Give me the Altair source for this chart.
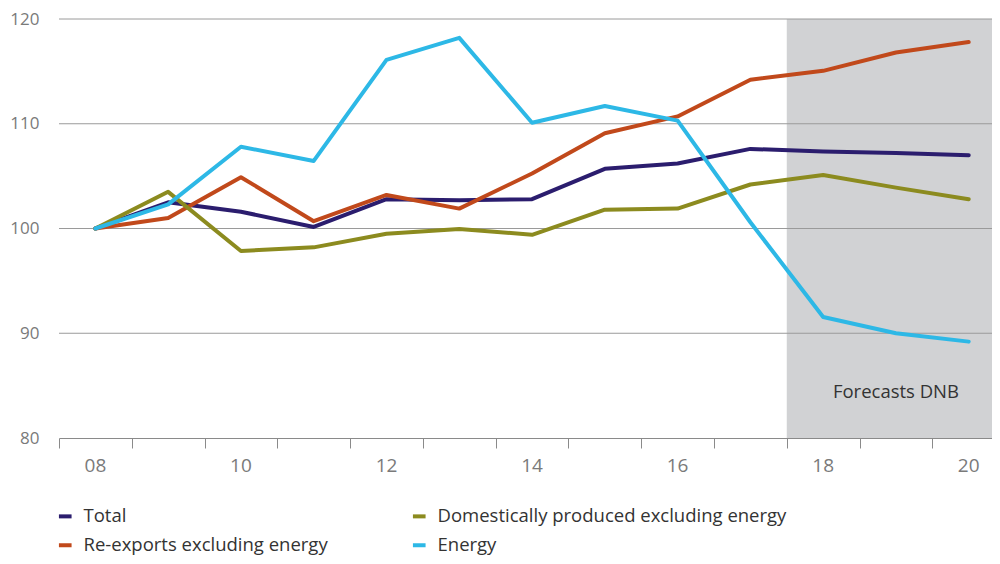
import altair as alt
import pandas as pd

years = list(range(2008, 2021))
total = [100, 102.5, 101.6, 100.15, 102.8, 102.7, 102.8, 105.7, 106.2, 107.6, 107.35, 107.2, 107.0]
reexports = [100, 101.0, 104.9, 100.7, 103.2, 101.9, 105.25, 109.1, 110.7, 114.2, 115.05, 116.8, 117.8]
domestic = [100, 103.5, 97.85, 98.2, 99.5, 99.96, 99.4, 101.8, 101.9, 104.2, 105.1, 103.9, 102.8]
energy = [100, 102.3, 107.8, 106.45, 116.1, 118.2, 110.1, 111.7, 110.3, 100.6, 91.55, 90.0, 89.2]

# order chosen so the 2-column legend reads: Total | Domestic / Re-exports | Energy
series_names = ["Total", "Re-exports excluding energy", "Domestically produced excluding energy", "Energy"]
series_colors = ["#2b1d6e", "#c1491b", "#8c8b1f", "#2db8e6"]
series_values = [total, reexports, domestic, energy]

label_years = [2008, 2010, 2012, 2014, 2016, 2018, 2020]
label_texts = ["08", "10", "12", "14", "16", "18", "20"]

grid_values = [90, 100, 110, 120]
forecast_start = 2017.5
forecast_end = 2020.5
forecast_label = "Forecasts DNB"

rows = []
for name, vals in zip(series_names, series_values):
    for y, v in zip(years, vals):
        rows.append({"year": y, "value": v, "series": name})
df = pd.DataFrame(rows)

tick_vals = [2007.5 + i for i in range(13)]

FONT = "Open Sans"
H = 419
W = 933
xscale = alt.Scale(domain=[2007.5, 2020.32], nice=False, zero=False)
yscale = alt.Scale(domain=[80, 120], nice=False, zero=False)

xaxis = alt.Axis(
    values=tick_vals, labels=False,
    tickSize=10, tickColor="#8a8a8a", domainColor="#8a8a8a", domainWidth=1,
    grid=False, title=None,
)
yaxis = alt.Axis(
    values=[80, 90, 100, 110, 120], grid=False, domain=False, ticks=False,
    labelColor="#7a7a7a", labelFontSize=17, labelFont=FONT, labelPadding=20, title=None,
)

rect_df = pd.DataFrame({"x": [forecast_start], "x2": [forecast_end], "y": [80], "y2": [120]})
rect = alt.Chart(rect_df).mark_rect(color="#d1d2d4", clip=True).encode(
    x=alt.X("x:Q", scale=xscale, axis=xaxis),
    x2="x2:Q",
    y=alt.Y("y:Q", scale=yscale, axis=yaxis),
    y2="y2:Q",
)

grid_df = pd.DataFrame({"g": grid_values})
grid = alt.Chart(grid_df).mark_rule(color="#9a9a9a", strokeWidth=1).encode(
    y=alt.Y("g:Q", scale=yscale)
)

lines = alt.Chart(df).mark_line(strokeWidth=4, strokeCap="round", strokeJoin="round").encode(
    x=alt.X("year:Q", scale=xscale),
    y=alt.Y("value:Q", scale=yscale),
    color=alt.Color(
        "series:N",
        scale=alt.Scale(domain=series_names, range=series_colors),
        sort=series_names,
        legend=alt.Legend(
            title=None, orient="none", legendX=-3, legendY=488, columns=2,
            symbolType="stroke", symbolStrokeWidth=4, symbolSize=160,
            labelFont=FONT, labelFontSize=18.5, labelColor="#333333", labelLimit=500,
            columnPadding=76, rowPadding=10, labelOffset=9, symbolOffset=0,
        ),
    ),
)

xl_df = pd.DataFrame({"x": label_years, "t": label_texts})
xlabels = alt.Chart(xl_df).mark_text(
    font=FONT, fontSize=19, color="#7a7a7a", baseline="middle"
).encode(
    x=alt.X("x:Q", scale=xscale), y=alt.value(H + 28), text="t:N"
)

text_df = pd.DataFrame({"x": [2019.0], "y": [84.4], "t": [forecast_label]})
text = alt.Chart(text_df).mark_text(font=FONT, fontSize=18.5, color="#333333").encode(
    x=alt.X("x:Q", scale=xscale), y=alt.Y("y:Q", scale=yscale), text="t:N"
)

chart = alt.layer(rect, grid, lines, xlabels, text).properties(
    width=W, height=H,
    autosize=alt.AutoSizeParams(type="none"),
    padding={"left": 51, "top": 11, "right": 0, "bottom": 118},
).configure_view(stroke=None)

chart.save("out.html", embed_options={"renderer": "svg", "actions": False})
